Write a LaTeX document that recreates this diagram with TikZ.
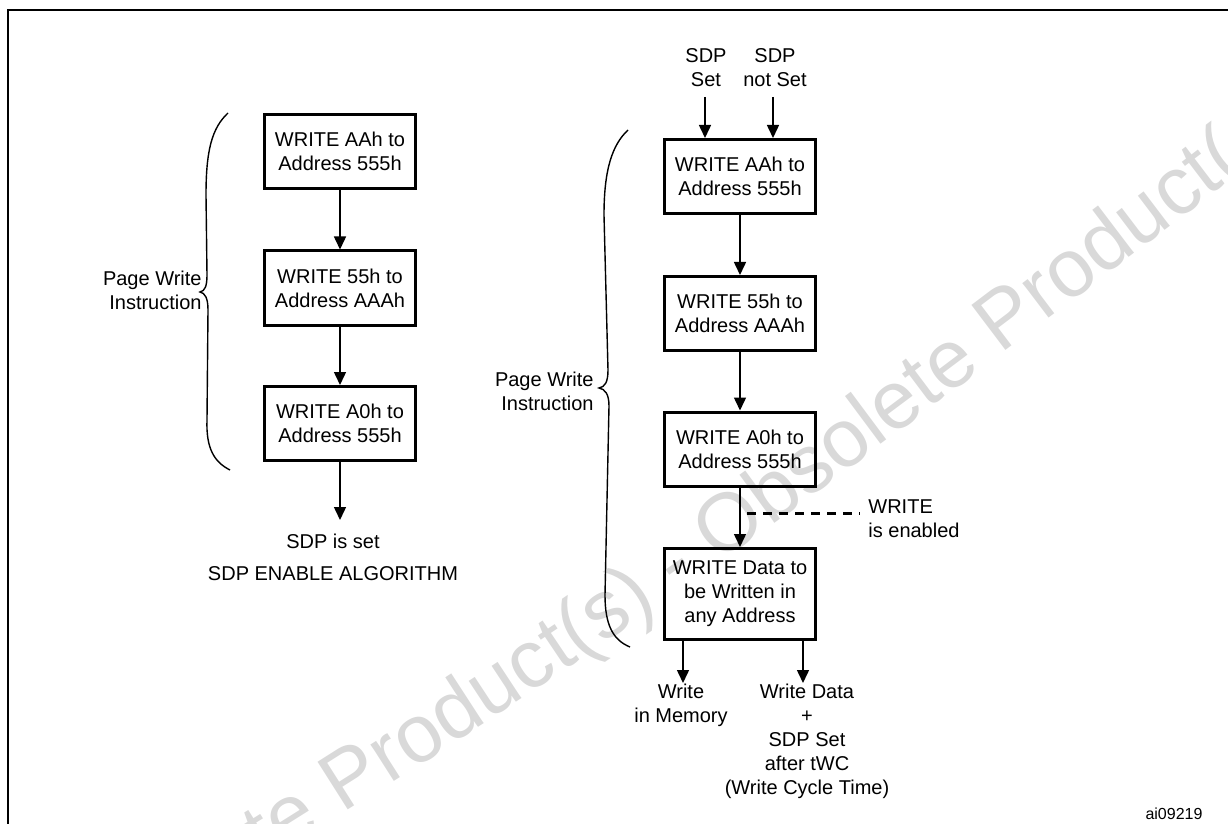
\documentclass[tikz,border=0pt]{standalone}
\usepackage{fontspec}
\setmainfont{Liberation Sans}
\usetikzlibrary{arrows.meta,decorations.text}
\newcommand\wmfont{\fontsize{41}{41}\selectfont\color{black!15}}
\begin{document}
\begin{tikzpicture}[x=0.5pt,y=-0.5pt,
  box/.style={draw, line width=1.5pt, minimum width=75.5pt, minimum height=37pt, inner sep=0pt, align=center, font=\fontsize{10}{12}\selectfont},
  lbl/.style={inner sep=0pt, align=center, font=\fontsize{10}{12}\selectfont},
  arr/.style={line width=0.75pt, -{Triangle[length=6.5pt,width=6pt]}},
  brc/.style={line width=0.7pt},
  dsh/.style={line width=1.5pt, dash pattern=on 4.5pt off 3.5pt}
]
\useasboundingbox (0,0) rectangle (1228,824);
% watermark
\path[decorate, decoration={text along path, text align=left,
  text={|\wmfont|Obsolete Product(s) - Obsolete Product(s)}}]
  (45,1000) .. controls (640,630) .. (1330,105);
% frame
\draw[line width=1pt] (8,830) -- (8,10) -- (1235,10);

% left algorithm
\node[box] (l1) at (340,151.5) {WRITE AAh to\\Address 555h};
\node[box] (l2) at (340,288) {WRITE 55h to\\Address AAAh};
\node[box] (l3) at (340,423.5) {WRITE A0h to\\Address 555h};
\coordinate (lend) at (340,520);
\draw[arr] (l1) -- (l2);
\draw[arr] (l2) -- (l3);
\draw[arr] (l3) -- (lend);
\node[lbl] (sdpis) at (333,541) {SDP is set};
\node[lbl] (alg) at (333,574) {SDP ENABLE ALGORITHM};
\node[lbl, anchor=east, align=right] (pwl) at (202,290) {Page Write\\Instruction};
\draw[brc] (228,113) .. controls (212,128) and (206,150) .. (206,195) -- (207,275)
  .. controls (207,286) and (205,291) .. (200,292)
  .. controls (205,293) and (208,298) .. (208,310) -- (207,420)
  .. controls (206,448) and (214,462) .. (230,470);

% right algorithm
\node[lbl] (sset) at (706,68) {SDP\\Set};
\node[lbl] (snset) at (775,68) {SDP\\not Set};
\node[box] (r1) at (740,176.5) {WRITE AAh to\\Address 555h};
\node[box] (r2) at (740,313.5) {WRITE 55h to\\Address AAAh};
\node[box] (r3) at (740,449) {WRITE A0h to\\Address 555h};
\node[box, minimum height=45.5pt] (r4) at (740,594) {WRITE Data to\\be Written in\\any Address};
\coordinate (c1) at (705,97);
\coordinate (c2) at (773,97);
\draw[arr] (c1) -- (c1 |- r1.north);
\draw[arr] (c2) -- (c2 |- r1.north);
\draw[arr] (r1) -- (r2);
\draw[arr] (r2) -- (r3);
\draw[arr] (r3) -- (r4);
\node[lbl, anchor=west, align=left] (wen) at (868,518.5) {WRITE\\is enabled};
\coordinate (d1) at (747,513);
\draw[dsh] (d1) -- ([xshift=-4pt]wen.west |- d1);
\coordinate (b1) at (683,683);
\coordinate (b2) at (803,683);
\draw[arr] (b1 |- r4.south) -- (b1);
\draw[arr] (b2 |- r4.south) -- (b2);
\node[lbl] (wim) at (681,705) {Write\\in Memory};
\node[lbl] (wds) at (807,741.5) {Write Data\\+\\SDP Set\\after tWC\\(Write Cycle Time)};
\node[lbl, anchor=east, align=right] (pwr) at (594,391) {Page Write\\Instruction};
\draw[brc] (628,130) .. controls (612,145) and (604,170) .. (604,215) -- (608,370)
  .. controls (608,382) and (605,387) .. (599,388)
  .. controls (605,389) and (609,394) .. (609,406) -- (605,595)
  .. controls (605,625) and (613,640) .. (630,647);

\node[lbl, font=\fontsize{8}{9.6}\selectfont] (ai) at (1174,814) {ai09219};
\end{tikzpicture}
\end{document}
